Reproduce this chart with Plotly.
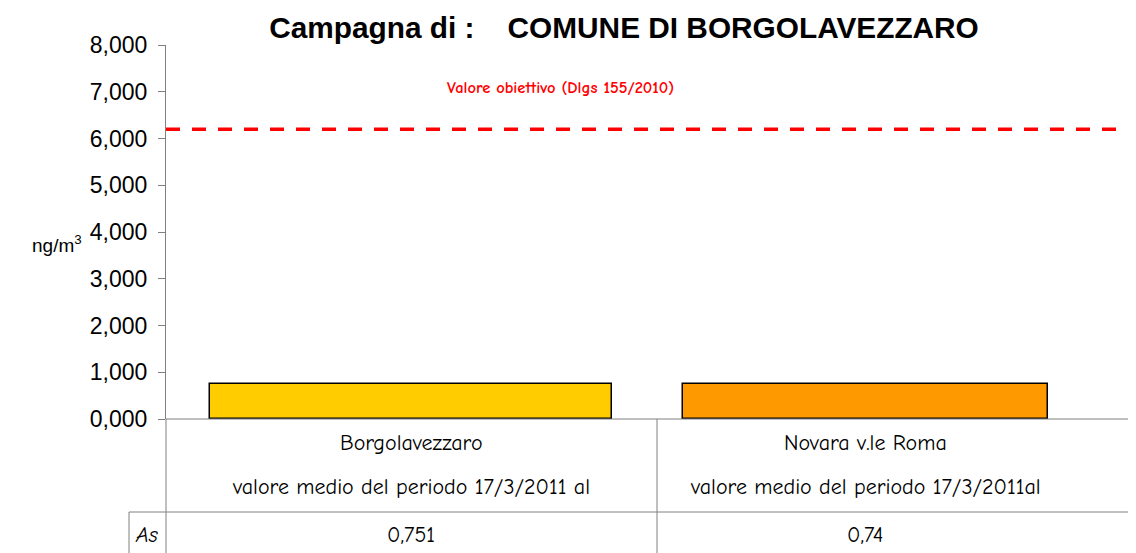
import plotly.graph_objects as go

# ---- data ----
categories = ["Borgolavezzaro", "Novara v.le Roma"]
subtitles = ["valore medio del periodo 17/3/2011 al", "valore medio del periodo 17/3/2011al"]
series_name = "As"
values = [0.751, 0.74]
value_labels = ["0,751", "0,74"]
bar_colors = ["#FFCC00", "#FF9900"]
objective_value = 6.2
objective_label = "Valore obiettivo (Dlgs 155/2010)"
y_ticks = [0, 1, 2, 3, 4, 5, 6, 7, 8]

# ---- layout geometry (pixels in the target picture) ----
OFF = 8  # page body margin
W, H = 1136, 553
PL, PR, PT, PB = 166, 1136, 45, 419  # plot area edges
cat_centers_px = [411, 865]
bar_widths_px = [402, 365]
unit = cat_centers_px[1] - cat_centers_px[0]

def xd(px):
    return (px - cat_centers_px[0]) / unit

def xp(px):
    return (px - PL) / (PR - PL)

def yp(py):
    return (PB - py) / (PB - PT)

xpos = [xd(c) for c in cat_centers_px]
xr = [xd(PL), xd(PR)]

fig = go.Figure()
fig.add_trace(go.Bar(
    x=xpos, y=values, width=[w / unit for w in bar_widths_px],
    marker=dict(color=bar_colors, line=dict(color="black", width=1.5)),
    showlegend=False, hoverinfo="y"))
fig.add_trace(go.Scatter(
    x=xr, y=[objective_value, objective_value], mode="lines",
    line=dict(color="#FF0000", width=3.5, dash="14px,12px"),
    showlegend=False, hoverinfo="skip"))

comic = "Comic Sans MS, Comic Neue, Lato, Noto Sans, sans-serif"
arial = "Arial, Liberation Sans, sans-serif"
gray = "#808080"

def hline(x0, x1, y):
    return dict(type="line", xref="paper", yref="paper", x0=xp(x0), x1=xp(x1), y0=yp(y), y1=yp(y),
                line=dict(color=gray, width=1))

def vline(x, y0, y1):
    return dict(type="line", xref="paper", yref="paper", x0=xp(x), x1=xp(x), y0=yp(y0), y1=yp(y1),
                line=dict(color=gray, width=1))

shapes = [
    vline(PL, PB, H),
    vline(657, PB, H),
    hline(129, PR, 512),
    vline(129, 512, H),
    hline(PL, PR, PB),
]

def ann(x, y, text, font):
    return dict(x=xp(x), y=yp(y), xref="paper", yref="paper", text=text, showarrow=False,
                xanchor="center", yanchor="middle", font=font)

tfont = dict(family=comic, size=22, color="black")
annotations = []
for i, c in enumerate(categories):
    annotations.append(ann(cat_centers_px[i], 443, categories[i], tfont))
    annotations.append(ann(cat_centers_px[i], 487, subtitles[i], tfont))
    annotations.append(ann(cat_centers_px[i], 535, value_labels[i], tfont))
annotations.append(ann(147, 535, "<i>" + series_name + "</i>", tfont))
annotations.append(ann(560, 87, "<b>" + objective_label + "</b>", dict(family=comic, size=16.5, color="#FF0000")))
annotations.append(ann(57, 244, "ng/m<sup>3</sup>", dict(family=arial, size=19, color="black")))

fig.update_layout(
    width=W - OFF, height=H - OFF,
    margin=dict(l=PL - OFF, r=W - PR, t=PT - OFF, b=H - PB, pad=0),
    paper_bgcolor="white", plot_bgcolor="white",
    separators=",.",
    title=dict(text="<b>Campagna di :    COMUNE DI BORGOLAVEZZARO</b>", x=(624 - OFF) / (W - OFF), xanchor="center",
               y=1 - (28 - OFF) / (H - OFF), yanchor="middle",
               font=dict(family=arial, size=29.8, color="black")),
    xaxis=dict(range=xr, showticklabels=False, showgrid=False, zeroline=False, showline=False, fixedrange=True),
    yaxis=dict(range=[0, 8], tickvals=y_ticks, tickformat=".3f", showgrid=False, zeroline=False,
               showline=True, linecolor=gray, linewidth=1, ticks="outside", ticklen=7, tickcolor=gray,
               tickfont=dict(family=arial, size=23, color="black"), ticklabelstandoff=6),
    shapes=shapes, annotations=annotations, bargap=0,
)
fig.write_html("out.html")
